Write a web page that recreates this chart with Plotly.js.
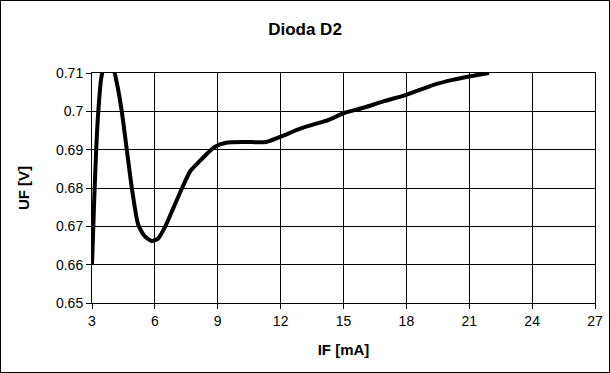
<!DOCTYPE html>
<html>
<head>
<meta charset="utf-8">
<script src="https://cdn.plot.ly/plotly-3.0.1.min.js"></script>
<style>
html,body{margin:0;padding:0;background:#fff;}
#frame{width:608px;height:371px;border:1px solid #000;}
#chart{width:608px;height:371px;}
</style>
</head>
<body>
<div id="frame"><div id="chart"></div></div>
<script>
const chartTitle = "Dioda D2";
const xTitle = "IF [mA]";
const yTitle = "UF [V]";
const IF = [3.0, 3.1, 3.2, 3.3, 3.45, 3.7, 3.95, 4.2, 4.42, 4.66, 4.9, 5.2, 5.5, 5.85, 6.15, 6.5, 6.9, 7.3, 7.7, 8.1, 8.5, 8.85, 9.4, 10.3, 11.3, 12.0, 13.0, 14.3, 15.0, 16.0, 16.9, 18.0, 19.3, 20.2, 21.0, 21.94];
const UF = [0.660, 0.676, 0.690, 0.700, 0.709, 0.7135, 0.7125, 0.707, 0.700, 0.690, 0.680, 0.6705, 0.6675, 0.6662, 0.6668, 0.670, 0.675, 0.680, 0.6845, 0.6868, 0.6890, 0.6907, 0.6918, 0.6920, 0.6920, 0.6934, 0.6956, 0.6978, 0.6995, 0.7010, 0.7026, 0.7043, 0.7069, 0.7082, 0.7091, 0.7100];
const xTicks = [3, 6, 9, 12, 15, 18, 21, 24, 27];
const yTicks = [0.65, 0.66, 0.67, 0.68, 0.69, 0.70, 0.71];
const yTickText = ["0.65", "0.66", "0.67", "0.68", "0.69", "0.7", "0.71"];

const font = "Liberation Sans, Arial, sans-serif";
const trace = {
  x: IF, y: UF, type: "scatter", mode: "lines",
  line: {color: "#000", width: 4, shape: "spline", smoothing: 0.6},
  hoverinfo: "skip"
};
const layout = {
  width: 608, height: 371,
  margin: {l: 91, r: 14, t: 72, b: 69},
  paper_bgcolor: "#fff", plot_bgcolor: "#fff",
  showlegend: false,
  font: {family: font, color: "#000", size: 14},
  title: {text: "<b>" + chartTitle + "</b>", font: {family: font, size: 17, color: "#000"}, x: 0.5, xanchor: "center", y: 0.925, yanchor: "middle"},
  xaxis: {
    range: [3, 27], tickvals: xTicks, ticktext: xTicks.map(String),
    showgrid: true, gridcolor: "#000", gridwidth: 1,
    showline: true, linecolor: "#000", linewidth: 1, mirror: true,
    ticks: "outside", ticklen: 5, tickcolor: "#000", zeroline: false,
    tickfont: {family: font, size: 14, color: "#000"},
    title: {text: "<b>" + xTitle + "</b>", font: {family: font, size: 15, color: "#000"}, standoff: 16}
  },
  yaxis: {
    range: [0.65, 0.71], tickvals: yTicks, ticktext: yTickText,
    showgrid: true, gridcolor: "#000", gridwidth: 1,
    showline: true, linecolor: "#000", linewidth: 1, mirror: true,
    ticks: "outside", ticklen: 5, tickcolor: "#000", zeroline: false,
    tickfont: {family: font, size: 14, color: "#000"},
    title: {text: "<b>" + yTitle + "</b>", font: {family: font, size: 15, color: "#000"}, standoff: 22}
  }
};
Plotly.newPlot("chart", [trace], layout, {staticPlot: true, displayModeBar: false});
</script>
</body>
</html>
